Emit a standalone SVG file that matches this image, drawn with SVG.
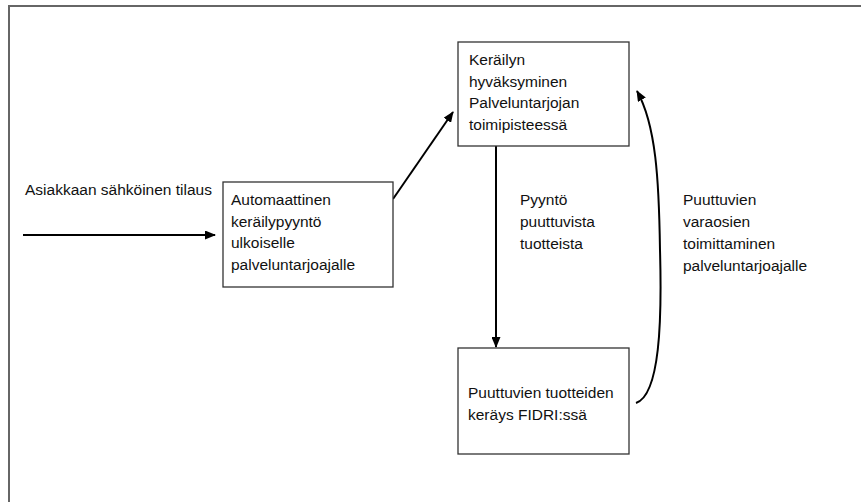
<svg xmlns="http://www.w3.org/2000/svg" width="861" height="502" viewBox="0 0 861 502">
  <style>
    .frame { stroke: #666; stroke-width: 2; fill: none; }
    .box { fill: #fff; stroke: #333; stroke-width: 1.3; }
    .lbl { font-family: "Liberation Sans", Arial, sans-serif; font-size: 15.5px; fill: #111; }
    .conn { stroke: #000; stroke-width: 2; fill: none; marker-end: url(#arrow); }
  </style>
  <defs>
    <marker id="arrow" markerUnits="userSpaceOnUse" markerWidth="11" markerHeight="9" refX="10" refY="4.5" orient="auto">
      <path d="M0,0 L11,4.5 L0,9 z" fill="#000"/>
    </marker>
  </defs>
  <rect width="861" height="502" fill="#fff"/>
  <!-- outer frame (top and left edges) -->
  <path class="frame" d="M9,502 V6 H861"/>

  <g id="connectors">
    <path class="conn" d="M23,235 H215"/>
    <path class="conn" d="M393,199 L453,112"/>
    <path class="conn" d="M496,146 V347"/>
    <path class="conn" d="M636,403 C660,395 662,320 660,250 C659,180 656,125 637,91"/>
  </g>

  <g id="order">
    <text class="lbl" x="25" y="195">Asiakkaan sähköinen tilaus</text>
  </g>

  <g id="auto-request">
    <rect class="box" x="223" y="182" width="170" height="105"/>
    <text class="lbl" x="231" y="205">Automaattinen</text>
    <text class="lbl" x="231" y="227">keräilypyyntö</text>
    <text class="lbl" x="231" y="248">ulkoiselle</text>
    <text class="lbl" x="231" y="270">palveluntarjoajalle</text>
  </g>

  <g id="approval">
    <rect class="box" x="458" y="42" width="171" height="104"/>
    <text class="lbl" x="469" y="65">Keräilyn</text>
    <text class="lbl" x="469" y="87">hyväksyminen</text>
    <text class="lbl" x="469" y="108">Palveluntarjojan</text>
    <text class="lbl" x="469" y="130">toimipisteessä</text>
  </g>

  <g id="fidri">
    <rect class="box" x="458" y="348" width="171" height="106"/>
    <text class="lbl" x="468" y="398">Puuttuvien tuotteiden</text>
    <text class="lbl" x="468" y="420">keräys FIDRI:ssä</text>
  </g>

  <g id="request-label">
    <text class="lbl" x="520" y="205">Pyyntö</text>
    <text class="lbl" x="520" y="227">puuttuvista</text>
    <text class="lbl" x="520" y="249">tuotteista</text>
  </g>

  <g id="delivery-label">
    <text class="lbl" x="683" y="205">Puuttuvien</text>
    <text class="lbl" x="683" y="227">varaosien</text>
    <text class="lbl" x="683" y="249">toimittaminen</text>
    <text class="lbl" x="683" y="271">palveluntarjoajalle</text>
  </g>
</svg>
